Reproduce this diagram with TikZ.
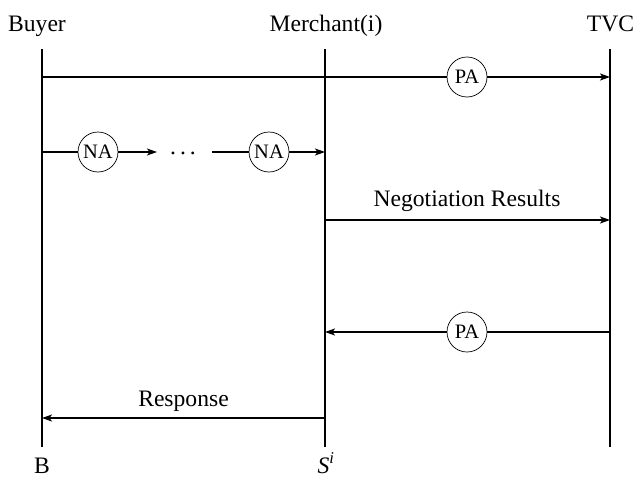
\documentclass[tikz,border=0pt]{standalone}
\usepackage{fontspec}
\setmainfont{Liberation Serif}
\usetikzlibrary{arrows.meta}
\tikzset{
  lifeline/.style={line width=1.7pt},
  msg/.style={line width=1.4pt,-{Stealth[length=10pt,width=7pt,inset=2.5pt]}},
  seg/.style={line width=1.4pt},
  token/.style={circle,draw,line width=0.7pt,minimum size=40pt,inner sep=0pt,
    font=\fontsize{20.5}{22}\selectfont},
  lbl/.style={inner sep=0pt,anchor=base,font=\fontsize{23.6}{26}\selectfont},
}
\begin{document}
\begin{tikzpicture}[x=1pt,y=-1pt]
\useasboundingbox (0,0) rectangle (634,479);

% participants
\node[lbl] (hB) at (37,31) {Buyer};
\node[lbl] (hM) at (326,31) {Merchant(i)};
\node[lbl] (hT) at (610.5,31) {TVC};
\node[lbl] (fB) at (42,473) {B};
\node[lbl] (fM) at (326,473) {\textit{S}\textsuperscript{\textit{i}}};

% lifelines
\coordinate (Btop) at (42,49);   \coordinate (Bbot) at (42,447);
\coordinate (Mtop) at (325,49);  \coordinate (Mbot) at (325,447);
\coordinate (Ttop) at (610,49);  \coordinate (Tbot) at (610,447);
\draw[lifeline] (Btop) -- (Bbot);
\draw[lifeline] (Mtop) -- (Mbot);
\draw[lifeline] (Ttop) -- (Tbot);

% buyer to TVC
\coordinate (B1) at (42,77);  \coordinate (T1) at (610,77);
\node[token] (pa1) at (467,77) {PA};
\draw[seg] (B1) -- (pa1);
\draw[msg] (pa1) -- (T1);

% buyer to merchant, chain of NA tokens
\coordinate (B2) at (42,152);  \coordinate (M2) at (325,152);
\node[token] (na1) at (98,152) {NA};
\node[lbl] (dots) at (183,154) {.\hspace{4pt}.\hspace{4pt}.};
\coordinate (na1end) at (157,152);
\coordinate (na2start) at (212,152);
\node[token] (na2) at (269,152) {NA};
\draw[seg] (B2) -- (na1);
\draw[msg] (na1) -- (na1end);
\draw[seg] (na2start) -- (na2);
\draw[msg] (na2) -- (M2);

% merchant to TVC
\coordinate (M3) at (325,220);  \coordinate (T3) at (610,220);
\draw[msg] (M3) -- (T3);
\node[lbl] (negres) at (467,206.5) {Negotiation Results};

% TVC back to merchant
\coordinate (T4) at (610,332);  \coordinate (M4) at (325,332);
\node[token] (pa2) at (467,332) {PA};
\draw[seg] (T4) -- (pa2);
\draw[msg] (pa2) -- (M4);

% merchant back to buyer
\coordinate (M5) at (325,418);  \coordinate (B5) at (42,418);
\draw[msg] (M5) -- (B5);
\node[lbl] (resp) at (183.5,406) {Response};
\end{tikzpicture}
\end{document}
